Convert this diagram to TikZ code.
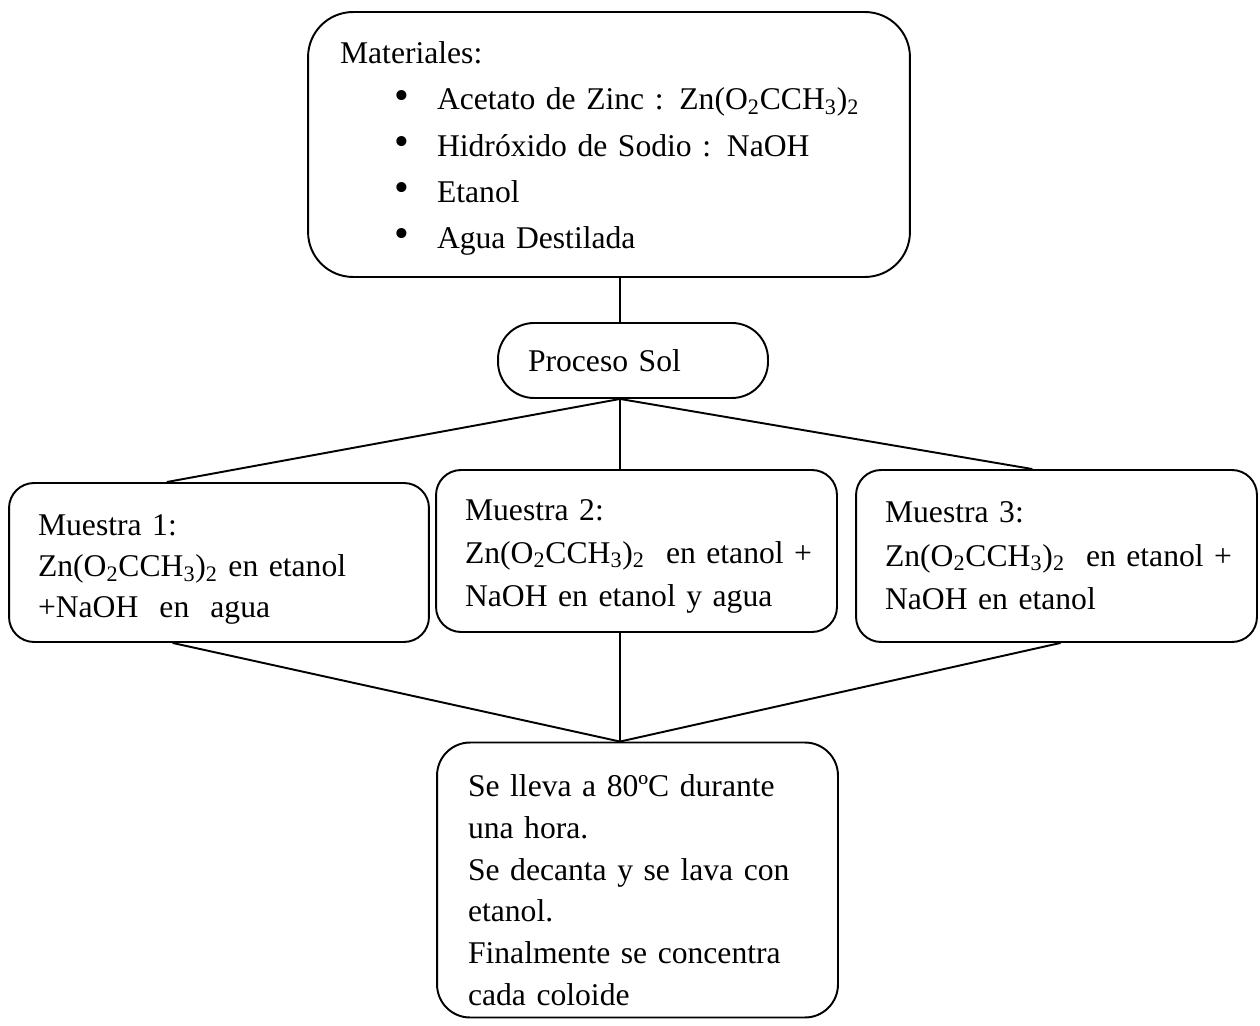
\documentclass[tikz,border=0pt]{standalone}
\usepackage{fontspec}
\setmainfont{Liberation Serif}
\usepackage{tikz}
\usetikzlibrary{calc,positioning}
\tikzset{%
	caja/.style       = {draw, rectangle, rounded corners=0.5cm, line width=1.1pt, align=left, inner xsep=0.58cm, inner ysep=0pt, font=\fontsize{18}{24.7}\selectfont},
	materiales/.style = {caja, rounded corners=0.9cm, inner xsep=0.64cm, font=\fontsize{18}{26.2}\selectfont}, % Materiales
	proceso/.style    = {caja, rounded corners=0.72cm, inner xsep=0.6cm}, % Proceso Sol
	muestra/.style    = {caja}, % Muestras
	pasos/.style      = {caja, rounded corners=0.66cm, inner xsep=0.62cm, font=\fontsize{18}{23.8}\selectfont}, % ultimo paso
	linea/.style      = {line width=1.1pt},
}
\newcommand{\vineta}{\hspace*{1.08cm}\makebox[0.86cm][l]{\raisebox{0.5pt}{\fontsize{24}{24}\selectfont\textbullet}}}
\newcommand{\acetato}{Zn(O\textsubscript{2}CCH\textsubscript{3})\textsubscript{2}}

\begin{document}
\begin{tikzpicture}[x=0.02cm,y=-0.02cm]
	\useasboundingbox (0,0) rectangle (1260,1026);
	\node [materiales,text width=10.76cm,minimum height=5.3cm] (mat) at (609,144.5) {\rule{0pt}{17pt}Materiales:\\
		\vineta Acetato de Zinc : \acetato\\
		\vineta Hidróxido de Sodio : NaOH\\
		\vineta Etanol\\
		\vineta Agua Destilada};
	\node [proceso,text width=4.2cm,minimum height=1.5cm] (sol) at (633,360.5) {Proceso Sol};
	\node [muestra,text width=7.24cm,minimum height=3.18cm,font=\fontsize{18}{23.5}\selectfont] (m1) at (219,562.5) {\rule{0pt}{20pt}Muestra 1:\\ \acetato{} en etanol\\ +NaOH\ \ en\ \ agua};
	\node [muestra,text width=6.86cm,minimum height=3.24cm] (m2) at (636.5,551) {\rule{0pt}{18pt}Muestra 2:\\ \acetato~~en~etanol~+\\ NaOH en etanol y agua};
	\node [muestra,text width=6.86cm,minimum height=3.44cm] (m3) at (1056.5,556) {Muestra 3:\\ \acetato~~en~etanol~+\\ NaOH en etanol};
	\node [pasos,text width=6.78cm,minimum height=5.5cm] (fin) at (637.5,880) {\rule{0pt}{24pt}Se lleva a 80ºC durante\\ una hora.\\ Se decanta y se lava con\\ etanol.\\ Finalmente se concentra\\ cada coloide};
	
	\coordinate (split) at ($(sol.south)+(-13,0)$);
	\coordinate (join) at ($(fin.north)+(-17.5,0)$);
	
	\draw[linea] (mat.south -| split) -- (sol.north -| split);
	\draw[linea] (split) -- ($(m1.north west)!0.376!(m1.north east)$);
	\draw[linea] (split) -- (m2.north -| split);
	\draw[linea] (split) -- ($(m3.north west)!0.44!(m3.north east)$);
	\draw[linea] ($(m1.south west)!0.39!(m1.south east)$) -- (join);
	\draw[linea] (m2.south -| join) -- (join);
	\draw[linea] ($(m3.south west)!0.51!(m3.south east)$) -- (join);
\end{tikzpicture}
\end{document}
